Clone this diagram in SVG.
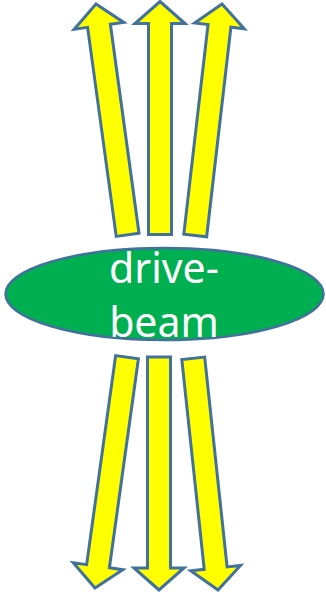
<svg xmlns="http://www.w3.org/2000/svg" xmlns:xlink="http://www.w3.org/1999/xlink" width="326" height="592" viewBox="0 0 326 592">
<style>
.arrow{fill:#FFFF00;stroke:#41719C;stroke-width:3;stroke-linejoin:miter}
.beam{fill:#00B050;stroke:#41719C;stroke-width:2.5}
.lbl{font-family:"Noto Sans","Open Sans",sans-serif;font-size:41px;fill:#FFFFFF;text-anchor:middle}
</style>
<defs>
<path id="up" d="M0,0 L25,22 L11.5,22 L11.5,233 L-11.5,233 L-11.5,22 L-25,22 Z"/>
</defs>
<g id="connectors">
<g id="arrow-top-left"><use xlink:href="#up" class="arrow" transform="translate(96,4) rotate(-7.8)"/></g>
<g id="arrow-top-center"><use xlink:href="#up" class="arrow" transform="translate(160,1.5)"/></g>
<g id="arrow-top-right"><use xlink:href="#up" class="arrow" transform="translate(222,4) rotate(6.6)"/></g>
<g id="arrow-bottom-left"><use xlink:href="#up" class="arrow" transform="translate(95,588) rotate(187.9)"/></g>
<g id="arrow-bottom-center"><use xlink:href="#up" class="arrow" transform="translate(159,590) rotate(180)"/></g>
<g id="arrow-bottom-right"><use xlink:href="#up" class="arrow" transform="translate(218,590) rotate(173.9)"/></g>
</g>
<g id="drive-beam">
<ellipse class="beam" cx="164.5" cy="294" rx="159" ry="46"/>
<text class="lbl" x="164" y="283">drive-</text>
<text class="lbl" x="164" y="337">beam</text>
</g>
</svg>
